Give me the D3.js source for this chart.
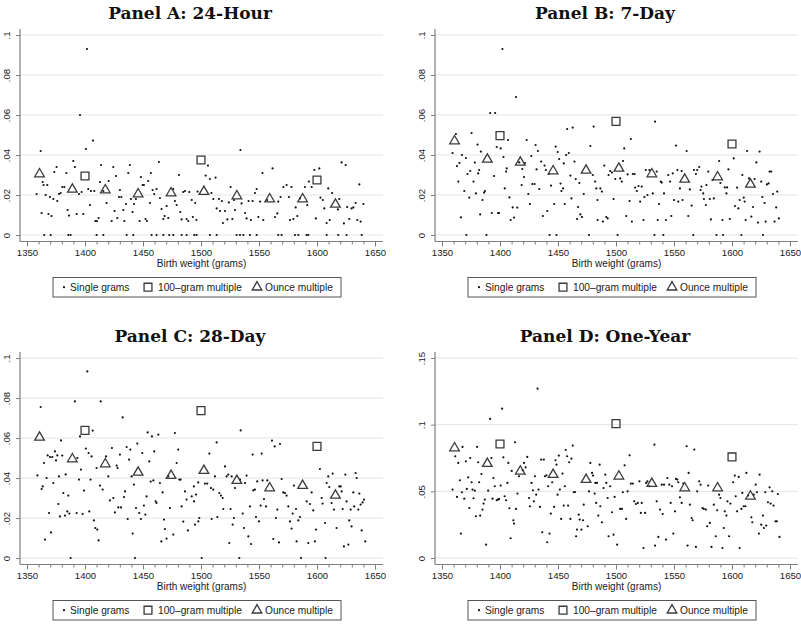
<!DOCTYPE html>
<html><head><meta charset="utf-8">
<script src="https://cdn.jsdelivr.net/npm/d3@7"></script>
<style>body{margin:0;background:#fff} svg{display:block}</style>
</head><body><svg id="c" width="801" height="625"></svg>
<script>
// ---------- data ----------
const titles = ["Panel A: 24-Hour", "Panel B: 7-Day", "Panel C: 28-Day", "Panel D: One-Year"];
const xTicks = [1350, 1400, 1450, 1500, 1550, 1600, 1650];
const yTicksSmall = [0, 0.02, 0.04, 0.06, 0.08, 0.1];
const yTicksLarge = [0, 0.05, 0.1, 0.15];
const legendLabels = ["Single grams", "100\u2013gram multiple", "Ounce multiple"];
const hundredX = [1400, 1500, 1600];
const ounceX = [1360.8, 1389.1, 1417.5, 1445.8, 1474.2, 1502.5, 1530.9, 1559.2, 1587.6, 1615.9];

const hundredA = [0.0295, 0.0375, 0.0275];
const ounceA = [0.0305, 0.0228, 0.0225, 0.0205, 0.021, 0.0217, 0.0195, 0.018, 0.018, 0.0153];
const hundredB = [0.0497, 0.0568, 0.0455];
const ounceB = [0.047, 0.0378, 0.0363, 0.032, 0.0323, 0.0333, 0.0305, 0.0278, 0.029, 0.0253];
const hundredC = [0.0638, 0.0737, 0.0558];
const ounceC = [0.0603, 0.0495, 0.047, 0.0428, 0.0412, 0.0437, 0.0387, 0.035, 0.0362, 0.0313];
const hundredD = [0.0855, 0.1008, 0.0758];
const ounceD = [0.0825, 0.0708, 0.065, 0.0625, 0.0588, 0.0613, 0.0558, 0.0525, 0.0525, 0.0463];

const singleA = [
[1358.3,.0205],[1361.8,.042],[1362.6,.011],[1363.5,.0265],[1364.3,.025],[1366.1,.02],[1367.5,.025],[1368.5,.0105],[1369.8,.019],[1371.2,.0095],[1372.7,.018],[1373.5,.0315],[1375.5,.034],[1376.1,.017],[1377.6,.0205],[1379,.021],[1380.4,.024],[1382.2,.024],[1383.9,.031],[1385,.0125],[1386.2,.0097],[1389.9,.037],[1391.3,.034],[1392.8,.0105],[1394.8,.0205],[1395.7,.06],[1397.1,.0215],[1398.5,.0105],[1400.8,.043],[1401.7,.093],[1402.8,.023],[1404.3,.015],[1405.1,.022],[1406.9,.0472],[1408,.022],[1408.9,.007],[1410.3,.007],[1411.7,.0085],[1412.9,.0265],[1413.8,.035],[1415.8,.022],[1418.6,.016],[1420.4,.027],[1423,.007],[1424.4,.034],[1425.5,.012],[1426.7,.0295],[1427.8,.0085],[1429.3,.019],[1430.1,.0225],[1431.3,.019],[1433,.0125],[1433.9,.007],[1435.3,.0155],[1437.3,.031],[1438.7,.035],[1439.6,.018],[1441,.0115],[1442.2,.0155],[1443.9,.018],[1447.1,.007],[1448.2,.029],[1449.7,.025],[1450.8,.025],[1452.2,.008],[1453.4,.007],[1454.5,.027],[1456,.016],[1456.8,.031],[1458.3,.0225],[1459.7,.0205],[1461.7,.023],[1463.7,.0365],[1464.6,.0185],[1466,.013],[1467.5,.008],[1468.6,.0095],[1470.4,.0145],[1471.8,.0085],[1476.1,.023],[1477.5,.017],[1479,.015],[1481,.03],[1482.1,.0115],[1483.3,.0078],[1484.7,.0215],[1486.2,.022],[1487.6,.008],[1489,.007],[1489.9,.0215],
[1492,.0175],[1493,.009],[1495,.016],[1496,.0075],[1497,.0217],[1504,.0297],[1506,.0347],[1507.7,.028],[1509,.021],[1510.6,.018],[1512.6,.0287],[1513.5,.0133],[1515.5,.018],[1516.4,.012],[1518,.017],[1518.9,.006],[1520.7,.012],[1522.7,.0078],[1524,.0163],[1525.5,.024],[1527,.008],[1528.4,.0175],[1529.3,.0125],[1534,.0425],[1535,.0158],[1538,.011],[1539.3,.0083],[1541,.017],[1543,.0075],[1544.5,.017],[1546.5,.021],[1548,.023],[1549.4,.009],[1551,.0167],[1553,.031],[1553.7,.0075],[1557,.0175],[1561.7,.0333],[1563.8,.009],[1565.8,.0108],[1566.6,.0167],[1568.6,.019],[1571,.024],[1573.8,.025],[1575.8,.019],[1576.7,.0075],[1578,.024],[1579.6,.008],[1581.6,.0138],[1583,.0095],[1585.3,.0183],[1589.6,.024],[1591.6,.015],[1593,.0267],[1595.4,.024],[1597.7,.0325],[1599,.0083],[1602,.0333],[1603,.0187],[1605,.0175],[1606.3,.0133],[1608.3,.006],[1609.7,.0233],[1611,.0075],[1613,.021],[1618,.0128],[1619.2,.018],[1621.2,.0363],[1623.2,.0058],[1624.7,.035],[1626,.014],[1627.8,.008],[1629.8,.0133],[1631.3,.0138],[1633.3,.016],[1634.7,.0075],[1636.5,.0253],[1637.6,.0067],[1640,.0155],
[1364.9,0],[1370.4,0],[1385.6,0],[1387.6,0],[1410,0],[1415.8,0],[1435.9,0],[1441.6,0],[1457.4,0],[1461.7,0],[1467.5,0],[1472.6,0],[1476.1,0],[1483.3,0],[1487.6,0],[1494.2,0],[1496.2,0],[1507.7,0],[1513.5,0],[1530.7,0],[1533.6,0],[1536.5,0],[1542.2,0],[1548,0],[1566.6,0],[1569.5,0],[1581,0],[1583.9,0],[1591,0],[1592.5,0],[1608.3,0],[1618.3,0],[1625.5,0],[1638.5,0]
];

const singleB = [
[1359.1,.041],[1362,.0505],[1362.9,.0345],[1364.1,.0267],[1365,.036],[1366.3,.0088],[1367.2,.04],[1369.2,.022],[1370.6,.0385],[1371,0],[1372,.0305],[1373.5,.0187],[1374.3,.032],[1375.5,.051],[1377.2,.0267],[1378.3,.0362],[1379.2,.0208],[1380.6,.0452],[1381.2,.0308],[1382,.0325],[1382.9,.0103],[1383.5,.0417],[1384.9,.0175],[1386.3,.0212],[1387,.022],[1388.3,0],[1391.5,.061],[1392.9,.011],[1394.9,.0295],[1395.8,.061],[1397.2,.044],[1398.3,.011],[1399.2,.011],[1400.6,.0433],[1402.1,.093],[1403,.039],[1404.1,.0233],[1405.2,.0317],[1405.8,.0333],[1406.9,.0475],[1408.1,.0188],[1409.2,.0075],[1410.9,.0138],[1412.1,.0087],[1413.8,.069],[1414.9,.0137],[1416.6,.0363],[1418.7,.025],[1419.2,.033],[1420.7,.029],[1421.5,.036],[1423,.0475],[1424.4,.0205],[1425.8,.0155],[1427,.0395],[1427.8,.0255],[1429.8,.0255],[1430.7,.045],[1431.5,.0328],[1432.7,.042],[1433.8,.023],[1435.5,.0367],[1437,.0095],[1438.4,.0347],[1439.5,.0325],[1440.7,.012],[1442,.0305],[1442.7,0],[1444,.0247],[1446.7,.0155],[1448,.0442],[1448.7,0],[1449.8,.0415],[1451,.038],[1452.2,.0257],[1453,.022],[1454.4,.0233],[1455,.0358],[1455.8,.0155],[1457,.04],[1457.9,.053],[1459.3,.041],[1460.7,.0297],[1461.6,.0183],[1462.7,.0537],[1464.2,.0367],[1465.3,.028],[1466.4,.008],[1467.3,.014],[1468.4,.026],[1469.3,.0103],[1470.7,.009],[1472.2,.0205],[1476.7,0],[1477.9,.0445],[1480,.03],[1480.7,.0542],[1482,.0267],[1483,.0233],[1484,.0175],
[1484.2,.0075],[1486.5,.0233],[1487.9,.0217],[1488.8,.0067],[1489.9,.0347],[1491.6,.009],[1492.8,.0083],[1493.6,.03],[1495,.032],[1496.5,.0312],[1497.9,.018],[1499.4,.028],[1501.4,0],[1503.6,.0283],[1505,.0267],[1506,.037],[1507.1,.0433],[1508.8,.0095],[1510,.0303],[1511.7,.017],[1512.8,.048],[1513.7,.0067],[1514.5,.0305],[1516,.0305],[1516.5,.0237],[1518,.022],[1519.4,.0245],[1520.8,.0167],[1522.2,.0242],[1523.7,.0075],[1524.5,.019],[1525.7,.0325],[1527.1,.02],[1528.8,.0325],[1531.7,.0208],[1533.1,0],[1533.7,.0567],[1535.1,.0317],[1536,.0075],[1537.1,.0155],[1538.6,.0267],[1539.4,.0262],[1540.8,0],[1541.4,.0208],[1543.1,.0075],[1545.1,.03],[1546.6,.0267],[1547.7,.0095],[1548.9,.0308],[1550,.0175],[1551.7,.0447],[1552.9,.0325],[1553.7,.0167],[1555.1,.0233],[1556.6,.032],[1557.4,.0175],[1560.9,.042],[1562.3,.0095],[1563.7,.0228],[1565.2,.0147],[1566.6,0],[1567.2,.0325],[1568.9,.0305],[1570,.0325],[1571.7,.034],[1572.9,.0225],[1573.7,.0242],[1575.2,.0208],[1575.8,.018],[1577.5,.015],[1578,.025],[1579.5,.0317],[1580.9,.018],[1581.8,.0078],[1583.2,.0275],[1584.3,.0183],[1586.6,0],[1588.9,.037],[1590,.026],[1591.8,.0075],[1592.3,0],[1593.8,.0238],[1595.2,.0208],[1595.8,.0238],[1596.9,.0328],[1598.1,.008],[1601.5,.0383],[1602.6,.0145],[1604.4,.0237],[1605.5,.0133],[1606.6,.0175],[1608.1,0],[1608.9,.03],[1610.1,.0187],[1610.9,.0167],[1611.8,.0075],[1613,.042],[1614.7,.0283],[1616.7,.0092],[1618.1,.014],[1619.5,.028],[1621,.0363],[1622.4,.0062],[1623.8,.0417],[1625.2,.0267],[1626.1,.019],[1626.7,0],[1628.1,.016],[1629,.0067],[1630.1,.0253],[1631.5,.0258],[1632.4,.0317],[1633.8,.0317],[1635.3,.0205],[1636.7,.0067],[1638.1,.0138],[1639,.0217],[1640.4,.0083]
];

const singleC = [
[1359,.0413],[1361.8,.0755],[1362.6,.0345],[1363.5,.0358],[1364.6,.0475],[1365.5,.0092],[1366.9,.04],[1367.8,.0513],[1369,.0225],[1369.8,.0505],[1370.7,.0128],[1371.8,.0505],[1372.7,.0375],[1374.1,.0533],[1375,.0488],[1376.1,.0513],[1377,.027],[1377.6,.0408],[1378.4,.0208],[1379.3,.0588],[1380.4,.0512],[1381.3,.0325],[1382.7,.0212],[1383.3,.0418],[1384.7,.0233],[1385.6,.0312],[1386.5,.0222],[1387.6,0],[1391.3,.0783],[1392.8,.0225],[1393.4,.05],[1394.8,.0392],[1395.7,.0608],[1396.5,.0442],[1398,.022],[1399.1,.0337],[1400.8,.0547],[1402,.0933],[1403.1,.0525],[1403.7,.0233],[1404.8,.0392],[1405.7,.0508],[1406.6,.0637],[1407.7,.0188],[1408.9,.015],[1410,.045],[1410.6,.0142],[1411.7,.0088],[1412.9,.0362],[1413.5,.0783],[1415.2,.0342],[1418.1,.0508],[1420.1,.0408],[1421.5,.0288],[1423.2,.055],[1424.4,.03],[1425.8,.0228],[1427.3,.0462],[1428.1,.045],[1428.7,.0253],[1430.1,.0517],[1431,.0253],[1432.4,.0703],[1433.6,.0305],[1434.5,.0333],[1435.9,.0555],[1436.8,.0195],[1438,.0492],[1439.1,.0542],[1440.2,.0408],[1441.1,.0122],[1442.2,.0367],[1443.1,0],[1444,.025],[1445.1,.0572],[1446.8,.0225],[1448.2,.0195],[1449.4,.0525],[1450.8,.0262],[1452,.0217],[1453.1,.0308],[1454,.0628],[1455.4,.0483],[1456.6,.0382],[1457.7,.0608],[1458.9,.0388],[1459.7,.0533],[1460.9,.0283],[1461.7,.0275],[1463.2,.0617],[1464.6,.0375],[1465.8,.0083],[1466.9,.0328],[1468.1,.0192],[1468.9,.0145],[1470.3,.0097],[1471.8,.0408],[1473.2,.025],[1476.1,.0117],[1477.5,.0625],[1479,.0475],[1480.4,.0542],[1481.3,.0392],[1482.4,.0392],[1483.3,.0258],[1484.7,.0182],[1486.2,.0333],[1487.6,.0292],[1488.7,.0138],[1493.9,.0358],[1497.6,.0378],
[1492,.0308],[1494,.0283],[1495.7,.0317],[1494.8,.0167],[1497.7,.0183],[1498.5,.02],[1500.6,0],[1503.4,.0372],[1505.4,.0372],[1507.2,.0522],[1508.6,.035],[1509.2,.0195],[1510.6,.0342],[1512,.0408],[1513.5,.0578],[1514.1,.0205],[1515.8,.0325],[1517.2,.0312],[1518.7,.03],[1519.2,.0245],[1520.7,.0458],[1522.1,.0408],[1523.5,.0417],[1524.4,.0075],[1525.5,.0245],[1526.4,.0408],[1527.3,.0167],[1528.4,.02],[1529.3,.035],[1533,0],[1533.6,.0392],[1534.2,.0638],[1535.9,.0222],[1537,.015],[1537.9,.0375],[1539.3,.0412],[1540.8,.0108],[1542.2,.0258],[1543.1,.007],[1544.5,.0517],[1545.1,.0338],[1546.5,.0342],[1547.4,.0205],[1548.5,.0383],[1550,.0183],[1551.4,.0262],[1552.3,.0522],[1553.1,.0388],[1554.3,.0295],[1556,.0258],[1557.2,.0388],[1561.2,.0587],[1562.3,.0095],[1563.5,.0558],[1564.6,.02],[1565.8,.0242],[1567.2,.0078],[1568.1,.057],[1569.5,.0395],[1570.9,.0328],[1572.4,.0325],[1573.8,.0312],[1575.3,.0258],[1576.7,.0183],[1578.1,.0147],[1579,.0222],[1580.1,.0362],[1581.9,.0245],[1582.4,.0083],[1583.9,.0188],[1585.3,.0205],[1586.2,0],[1591.1,.0283],[1592.5,.0075],[1593.9,.027],[1595.4,.0328],[1596.8,.0238],[1598.2,.0083],[1599.1,.0142],[1602.5,.0445],[1604,.03],[1604.8,.0272],[1606.9,.0175],[1607.4,0],[1608.3,.0375],[1609.7,.0408],[1610.6,.0355],[1612.6,.0275],[1613.5,.0422],[1614.6,.0242],[1616.9,.015],[1619.2,.0358],[1620.4,.0358],[1621.2,.0333],[1622.1,.0245],[1623.2,.0058],[1624.4,.0417],[1625.5,.0283],[1627,.0067],[1627.8,.0188],[1629,.0242],[1629.8,.0158],[1631.3,.0328],[1632.1,.0258],[1633.3,.0425],[1634.2,.04],[1635.6,.0242],[1636.5,.0322],[1637.6,.0267],[1638.5,.0138],[1639.3,.0278],[1640.5,.0292],[1641.6,.0083]
];

const singleD = [
[1359.1,.0513],[1361.4,.0763],[1362.9,.0458],[1364,.0713],[1365.4,.0583],[1366.3,.0183],[1367.2,.0493],[1367.7,.0833],[1369.2,.0445],[1370.6,.0725],[1371.4,.0518],[1372.6,.0605],[1373.5,.0375],[1374.3,.075],[1375.5,.0568],[1376.3,.0513],[1377.2,.0448],[1378.3,.0505],[1379.2,.0313],[1380.3,.0833],[1381.2,.0718],[1382,.0568],[1382.9,.0318],[1384,.063],[1384.9,.0363],[1385.8,.0408],[1386.9,.0438],[1388,.01],[1389.8,.0505],[1391.5,.1043],[1392.6,.075],[1393.5,.0445],[1394.3,.06],[1395.5,.0538],[1397.2,.0433],[1398.3,.0438],[1399.2,.0443],[1400.6,.0543],[1401.8,.112],[1402.9,.0755],[1404,.0463],[1405.2,.0433],[1406.4,.0563],[1407.2,.0713],[1408.1,.0373],[1409.2,.0148],[1410.1,.0653],[1411.5,.0283],[1412.1,.0258],[1413,.0868],[1413.8,.0368],[1415,.0483],[1416.4,.0613],[1419.5,.0658],[1420.7,.0713],[1422.1,.068],[1423.5,.0758],[1425,.045],[1425.8,.0388],[1427.2,.0563],[1428.4,.0508],[1429.2,.0425],[1430.1,.0613],[1431.2,.0475],[1432.4,.127],[1433.2,.0513],[1434.4,.0383],[1435.5,.0738],[1436.4,.0193],[1437.8,.0738],[1438.7,.0613],[1440.1,.062],[1440.7,.0118],[1441.5,.0538],[1442.7,.0183],[1443.8,.0333],[1445,.0568],[1446.7,.0383],[1447.8,.0733],[1448.7,.07],[1449.6,.0475],[1450.7,.0768],[1451.6,.0513],[1452.7,.0293],[1453.9,.0633],[1455,.0393],[1455.9,.0538],[1456.7,.081],[1457.9,.0763],[1458.7,.0393],[1459.6,.0718],[1460.7,.0293],[1461.6,.0745],[1462.7,.0843],[1463.6,.0493],[1464.7,.0495],[1465.6,.0163],[1466.4,.0213],[1467.9,.0325],[1468.7,.0288],[1470.2,.0213],[1471.6,.0283],[1472.2,.04],[1475.6,.0238],[1476.7,.05],[1477.9,.0713],[1479.3,.0638],[1480.2,.0618],[1481.6,.0483],[1482.2,.0563],[1483.6,.0563],[1484.7,.0318],[1482.9,.0413],
[1485.9,.07],[1486.5,.0388],[1487.9,.0268],[1489.3,.0525],[1490.8,.0625],[1491.6,.0563],[1492.8,.045],[1493.6,.0163],[1495,.0538],[1496.5,.0343],[1497.9,.0175],[1498.8,.0458],[1501,.01],[1503.6,.0368],[1505.1,.0368],[1505.9,.0493],[1507.4,.0695],[1508.8,.0293],[1510,.05],[1511.7,.077],[1512.8,.0558],[1514.5,.0558],[1515.7,.0425],[1517.1,.0405],[1518.8,.0413],[1520.2,.0575],[1521.4,.0338],[1522.2,.0413],[1523.7,.0075],[1525.1,.0338],[1526,.0563],[1527.1,.0575],[1528.8,.0538],[1533.1,.085],[1533.7,.0093],[1535.1,.0425],[1536.5,.0158],[1538,.0363],[1539.4,.055],[1540.3,.033],[1541.4,.055],[1543.1,.0138],[1544.3,.06],[1546,.055],[1547.1,.0413],[1548.3,.0538],[1549.4,.0183],[1550.9,.035],[1551.7,.0593],[1552.9,.0588],[1553.7,.0568],[1555.1,.0455],[1556.6,.0413],[1558,.0558],[1560.9,.0838],[1561.7,.0093],[1562.6,.0638],[1563.7,.04],[1565.2,.03],[1566.1,.0283],[1567.5,.0813],[1568.9,.0083],[1570,.05],[1571.7,.0575],[1572.9,.055],[1574.6,.0375],[1575.7,.0368],[1577.5,.0363],[1578.6,.0238],[1579.5,.0543],[1580.9,.0263],[1582.3,.0083],[1584.3,.04],[1586,.0163],[1587.2,.0358],[1588.9,.0475],[1590,.045],[1591.8,.0075],[1592.9,.0225],[1593.8,.035],[1595.2,.0318],[1596.1,.0425],[1597.5,.0163],[1598.6,.0408],[1601,.0568],[1602.4,.0618],[1603.2,.0463],[1604.4,.035],[1605.8,.0608],[1606.6,.0075],[1608.1,.0368],[1608.9,.0488],[1610.1,.0388],[1611.5,.0388],[1612.4,.0638],[1613.8,.0468],[1616.7,.0305],[1617.5,.0268],[1618.7,.0475],[1620.4,.055],[1621.5,.0493],[1623.2,.0183],[1623.8,.0625],[1625.2,.025],[1626.7,.0318],[1627.5,.0225],[1628.7,.0493],[1629.5,.0243],[1631,.0418],[1632.4,.053],[1633.3,.0408],[1634.7,.05],[1635.8,.0393],[1637.5,.0275],[1638.7,.0275],[1639.5,.048],[1640.9,.0158]
];

// ---------- drawing ----------
const svg = d3.select("#c");
const panels = [
  {title: titles[0], ox: 0,   oy: 0,   single: singleA, hundred: hundredA, ounce: ounceA, yMax: 0.1,  yTicks: yTicksSmall},
  {title: titles[1], ox: 415, oy: 0,   single: singleB, hundred: hundredB, ounce: ounceB, yMax: 0.1,  yTicks: yTicksSmall},
  {title: titles[2], ox: 0,   oy: 323, single: singleC, hundred: hundredC, ounce: ounceC, yMax: 0.1,  yTicks: yTicksSmall},
  {title: titles[3], ox: 415, oy: 323, single: singleD, hundred: hundredD, ounce: ounceD, yMax: 0.15, yTicks: yTicksLarge}
];

const AX = 20, PR = 383, PT = 29, PB = 241.5;
const sans = "'Liberation Sans', Arial, sans-serif";
const ink = "#1a1a1a", markInk = "#3a3a3a", axisCol = "#7f7f7f";
const sqSym = d3.symbol().type(d3.symbolSquare).size(62);
const triSym = d3.symbol().type(d3.symbolTriangle).size(40);

panels.forEach(p => {
  const g = svg.append("g").attr("transform", `translate(${p.ox},${p.oy})`);
  const x = d3.scaleLinear().domain([1350, 1650]).range([27, 375]);
  const y = d3.scaleLinear().domain([0, p.yMax]).range([235, 35]);

  // gridlines
  g.append("g").selectAll("line").data(p.yTicks).join("line")
    .attr("x1", AX).attr("x2", PR)
    .attr("y1", d => y(d)).attr("y2", d => y(d))
    .attr("stroke", "#e4e4e4").attr("stroke-width", 1);

  // title
  g.append("text").attr("x", 190).attr("y", 19).attr("text-anchor", "middle")
    .attr("font-family", "'DejaVu Serif', serif").attr("font-weight", "bold")
    .attr("font-size", 17).attr("fill", "#111").text(p.title);

  // x axis (major + minor)
  const xg = g.append("g").attr("transform", `translate(0,${PB})`);
  xg.call(d3.axisBottom(x).tickValues(xTicks).tickSize(5).tickPadding(3).tickFormat(d3.format("d")));
  const xm = g.append("g").attr("transform", `translate(0,${PB})`);
  xm.call(d3.axisBottom(x).tickValues(d3.range(1360, 1650, 10).filter(v => v % 50 !== 0)).tickSize(3).tickFormat(""));
  [xg, xm].forEach(a => {
    a.select(".domain").remove();
    a.selectAll("line").attr("stroke", axisCol);
  });
  xg.selectAll("text").attr("font-family", sans).attr("font-size", 9.6).attr("fill", ink);

  // y axis
  const yg = g.append("g").attr("transform", `translate(${AX},0)`);
  yg.call(d3.axisLeft(y).tickValues(p.yTicks).tickSize(4)
    .tickFormat(d => d === 0 ? "0" : String(+d.toFixed(3)).replace(/^0\./, ".")));
  yg.select(".domain").remove();
  yg.selectAll("line").attr("stroke", axisCol);
  yg.selectAll("text").attr("x", null).attr("dy", null).attr("y", null)
    .attr("transform", "translate(-10.5,0) rotate(-90)")
    .attr("text-anchor", "middle")
    .attr("font-family", sans).attr("font-size", 9.6).attr("fill", ink);

  // axis lines
  g.append("line").attr("x1", AX).attr("x2", AX).attr("y1", PT).attr("y2", PB)
    .attr("stroke", axisCol).attr("stroke-width", 1.2);
  g.append("line").attr("x1", AX).attr("x2", PR).attr("y1", PB).attr("y2", PB)
    .attr("stroke", axisCol).attr("stroke-width", 1.2);

  // axis title
  g.append("text").attr("x", (AX + PR) / 2).attr("y", 267).attr("text-anchor", "middle")
    .attr("font-family", sans).attr("font-size", 10).attr("fill", ink)
    .text("Birth weight (grams)");

  // marks
  g.append("g").selectAll("circle").data(p.single).join("circle")
    .attr("cx", d => x(d[0])).attr("cy", d => y(d[1])).attr("r", 1.1)
    .attr("fill", "#111");
  g.append("g").selectAll("path").data(hundredX.map((v, i) => [v, p.hundred[i]])).join("path")
    .attr("d", sqSym).attr("transform", d => `translate(${x(d[0])},${y(d[1])})`)
    .attr("fill", "none").attr("stroke", markInk).attr("stroke-width", 1.3);
  g.append("g").selectAll("path").data(ounceX.map((v, i) => [v, p.ounce[i]])).join("path")
    .attr("d", triSym).attr("transform", d => `translate(${x(d[0])},${y(d[1])})`)
    .attr("fill", "none").attr("stroke", markInk).attr("stroke-width", 1.3);

  // legend
  const lg = g.append("g");
  lg.append("rect").attr("x", 53).attr("y", 277.5).attr("width", 288).attr("height", 19.5)
    .attr("fill", "#fff").attr("stroke", "#555").attr("stroke-width", 1);
  const ly = 287.2;
  lg.append("circle").attr("cx", 64).attr("cy", ly).attr("r", 1.1).attr("fill", "#111");
  lg.append("path").attr("d", sqSym).attr("transform", `translate(148,${ly})`)
    .attr("fill", "none").attr("stroke", markInk).attr("stroke-width", 1.3);
  lg.append("path").attr("d", triSym).attr("transform", `translate(257,${ly})`)
    .attr("fill", "none").attr("stroke", markInk).attr("stroke-width", 1.3);
  [[70, legendLabels[0]], [158, legendLabels[1]], [265, legendLabels[2]]].forEach(([lx, t]) => {
    lg.append("text").attr("x", lx).attr("y", ly + 3.6)
      .attr("font-family", sans).attr("font-size", 10.2).attr("fill", ink).text(t);
  });
});
</script></body></html>
